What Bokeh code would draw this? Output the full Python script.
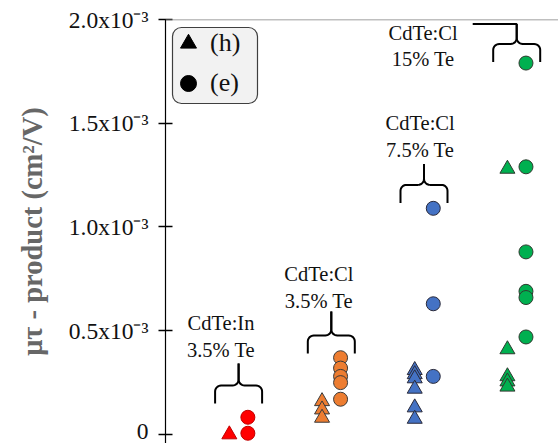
import numpy as np
from bokeh.plotting import figure
from bokeh.models import Range1d, FixedTicker, Span, Legend, LegendItem
from bokeh.core.properties import value
from bokeh.embed import file_html
from bokeh.resources import INLINE

# ---------------- data ----------------
group_labels = ["CdTe:In\n3.5% Te", "CdTe:Cl\n3.5% Te", "CdTe:Cl\n7.5% Te", "CdTe:Cl\n15% Te"]
group_colors = ["#FF0000", "#ED7D31", "#4472C4", "#00B050"]
edge_colors = ["#C00000", "#3A3A3A", "#2A2A3A", "#2F3A2F"]

# mu-tau products (cm^2/V); (h) holes, (e) electrons
h_in_35 = [0.0]
e_in_35 = [0.083e-3, 0.006e-3]
h_cl_35 = [0.16e-3, 0.12e-3, 0.08e-3]
e_cl_35 = [0.37e-3, 0.32e-3, 0.28e-3, 0.25e-3, 0.17e-3]
h_cl_75 = [0.31e-3, 0.29e-3, 0.27e-3, 0.22e-3, 0.13e-3, 0.075e-3]
e_cl_75 = [1.09e-3, 0.63e-3, 0.28e-3]
h_cl_15 = [1.28e-3, 0.41e-3, 0.28e-3, 0.255e-3, 0.23e-3]
e_cl_15 = [1.79e-3, 1.29e-3, 0.88e-3, 0.69e-3, 0.66e-3, 0.47e-3]

holes = [h_in_35, h_cl_35, h_cl_75, h_cl_15]
electrons = [e_in_35, e_cl_35, e_cl_75, e_cl_15]

y_ticks = [0.0, 0.5e-3, 1.0e-3, 1.5e-3, 2.0e-3]
y_tick_labels = ["0", "0.5x10\u207b\u00b3", "1.0x10\u207b\u00b3", "1.5x10\u207b\u00b3", "2.0x10\u207b\u00b3"]

# annotation placement (group-relative)
label_dx = [-0.19, -0.134, -0.042, -1.01]
label_y = [0.472e-3, 0.708e-3, 1.436e-3, 1.871e-3]
brace_y = [0.236e-3, 0.477e-3, 1.203e-3, 1.882e-3]
brace_stem_px = [22, 24, 21, 20]
brace_conn_px = [0, 0, 0, 44]

# ---------------- figure ----------------
W, H = 558, 443
FL, FT = 165, 19
x0, x1 = 0.2114, 4.4509
y0, y1 = -0.0434e-3, 2.0e-3

p = figure(width=W, height=H, output_backend="svg", toolbar_location=None,
           x_range=Range1d(x0, x1), y_range=Range1d(y0, y1),
           x_axis_location=None,
           min_border_left=FL, min_border_top=FT, min_border_right=0, min_border_bottom=0)
p.outline_line_color = None
p.grid.visible = False
p.background_fill_color = "white"
p.border_fill_color = "white"

xs = (W - FL) / (x1 - x0)      # px per x unit
ys = (H - FT) / (y1 - y0)      # px per y unit

ax = p.yaxis[0]
ax.ticker = FixedTicker(ticks=y_ticks)
ax.major_label_overrides = {t: l for t, l in zip(y_ticks, y_tick_labels)}
ax.axis_line_color = "black"
ax.axis_line_width = 1.2
ax.major_tick_in = 7
ax.major_tick_out = 7
ax.major_tick_line_width = 1.5
ax.major_tick_line_color = "black"
ax.minor_tick_line_color = None
ax.major_label_text_font = "Liberation Serif"
ax.major_label_text_font_size = "23.5px"
ax.major_label_text_color = "#111111"
ax.major_label_standoff = 10
ax.axis_label = "\u03bc\u03c4 - product (cm\u00b2/V)"
ax.axis_label_text_font = "Liberation Serif"
ax.axis_label_text_font_style = "bold"
ax.axis_label_text_font_size = "28.5px"
ax.axis_label_text_color = "#676767"
ax.axis_label_standoff = 18

p.add_layout(Span(location=y_ticks[-1], dimension="width", line_color="#808080", line_width=1.5))

# ---------------- data marks ----------------
for i, (hv, ev) in enumerate(zip(holes, electrons)):
    g = i + 1
    p.scatter(x=[g - 0.1] * len(hv), y=hv, marker="triangle", size=15,
              fill_color=group_colors[i], line_color=edge_colors[i], line_width=1)
    p.scatter(x=[g + 0.1] * len(ev), y=ev, marker="circle", size=14,
              fill_color=group_colors[i], line_color=edge_colors[i], line_width=1)

# ---------------- braces ----------------
def brace(cx, ylev, stem, conn, w=23.5, drop=18, r=6):
    a1 = np.linspace(np.pi, np.pi / 2, 8)
    a2 = np.linspace(-np.pi / 2, 0, 8)
    X = [-w] + list(-w + r + r * np.cos(a1)) + list(-r + r * np.cos(a2)) + [0]
    Y = [-drop] + list(-r + r * np.sin(a1)) + list(r + r * np.sin(a2)) + [stem]
    X, Y = np.array(X), np.array(Y)
    left_x, left_y = list(X), list(Y)
    if conn:
        left_x.append(-conn)
        left_y.append(stem)
    right_x, right_y = list(-X), list(Y)
    to_x = lambda arr: [cx + v / xs for v in arr]
    to_y = lambda arr: [ylev + v / ys for v in arr]
    return [to_x(left_x), to_x(right_x)], [to_y(left_y), to_y(right_y)]

bx, by = [], []
for i in range(4):
    a, b = brace(i + 1, brace_y[i], brace_stem_px[i], brace_conn_px[i])
    bx += a
    by += b
p.multi_line(xs=bx, ys=by, line_color="black", line_width=2)

p.text(x=[i + 1 + d for i, d in enumerate(label_dx)], y=label_y, text=group_labels,
       text_align="center", text_baseline="middle",
       text_font=value("Liberation Serif"), text_font_size="20.5px",
       text_color="#111111", text_line_height=1.2)

# ---------------- legend ----------------
box_cx = x0 + 49.5 / xs
box_cy = y1 - 46 / ys
p.rect(x=[box_cx], y=[box_cy], width=85, height=76, width_units="screen", height_units="screen",
       fill_color="#f2f2f2", line_color="#3f3f3f", line_width=1.2, border_radius=9)

r_h = p.scatter(x=[np.nan], y=[np.nan], marker="triangle", size=14, color="black")
r_e = p.scatter(x=[np.nan], y=[np.nan], marker="circle", size=14, color="black")
legend = Legend(items=[LegendItem(label="(h)", renderers=[r_h]),
                       LegendItem(label="(e)", renderers=[r_e])],
                location=(3, 340), padding=0, margin=0, spacing=-7,
                glyph_width=40, glyph_height=40, label_height=40, label_standoff=2,
                label_text_font="Liberation Serif", label_text_font_size="26px",
                label_text_color="#111111",
                border_line_alpha=0, background_fill_alpha=0)
p.add_layout(legend)

open("out.html", "w").write(file_html(p, INLINE))
